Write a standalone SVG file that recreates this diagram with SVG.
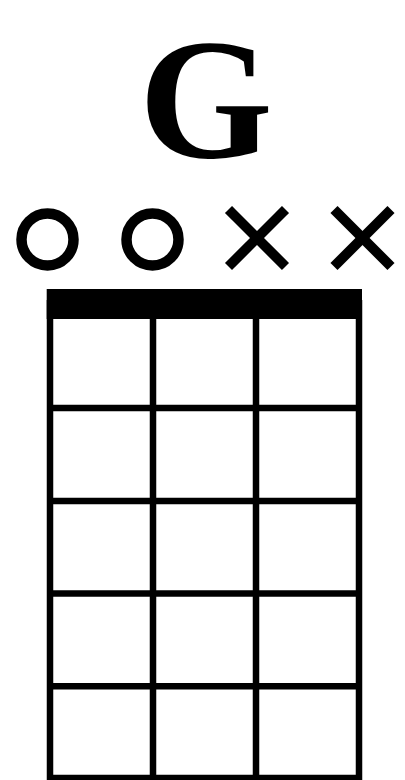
<svg xmlns="http://www.w3.org/2000/svg" width="405" height="780" viewBox="0 0 405 780">
<style>
.title{font-family:"Liberation Serif","Times New Roman",serif;font-weight:bold;font-size:172px;fill:#000}
.line{stroke:#000;stroke-width:6.5;fill:none}
.open{stroke:#000;stroke-width:10.5;fill:none}
.mute{stroke:#000;stroke-width:10;stroke-linecap:butt}
</style>
<rect width="405" height="780" fill="#fff"/>
<g id="title"><text class="title" x="206" y="157" text-anchor="middle">G</text></g>
<g id="markers">
<circle id="s1-open" class="open" cx="47.5" cy="239.5" r="26"/>
<circle id="s2-open" class="open" cx="152.5" cy="239.5" r="26"/>
<g id="s3-mute"><line class="mute" x1="228.5" y1="209.5" x2="285.5" y2="266.5"/><line class="mute" x1="285.5" y1="209.5" x2="228.5" y2="266.5"/></g>
<g id="s4-mute"><line class="mute" x1="334" y1="209.5" x2="391" y2="266.5"/><line class="mute" x1="391" y1="209.5" x2="334" y2="266.5"/></g>
</g>
<g id="grid">
<line class="line" x1="50" y1="300" x2="50" y2="781"/>
<line class="line" x1="153" y1="300" x2="153" y2="781"/>
<line class="line" x1="256" y1="300" x2="256" y2="781"/>
<line class="line" x1="359" y1="300" x2="359" y2="781"/>
<line class="line" x1="47" y1="408" x2="362" y2="408"/>
<line class="line" x1="47" y1="501" x2="362" y2="501"/>
<line class="line" x1="47" y1="593.5" x2="362" y2="593.5"/>
<line class="line" x1="47" y1="686.3" x2="362" y2="686.3"/>
<line class="line" x1="47" y1="778" x2="362" y2="778"/>
<rect id="nut" x="46.7" y="289" width="315.3" height="30" fill="#000"/>
</g>
</svg>
